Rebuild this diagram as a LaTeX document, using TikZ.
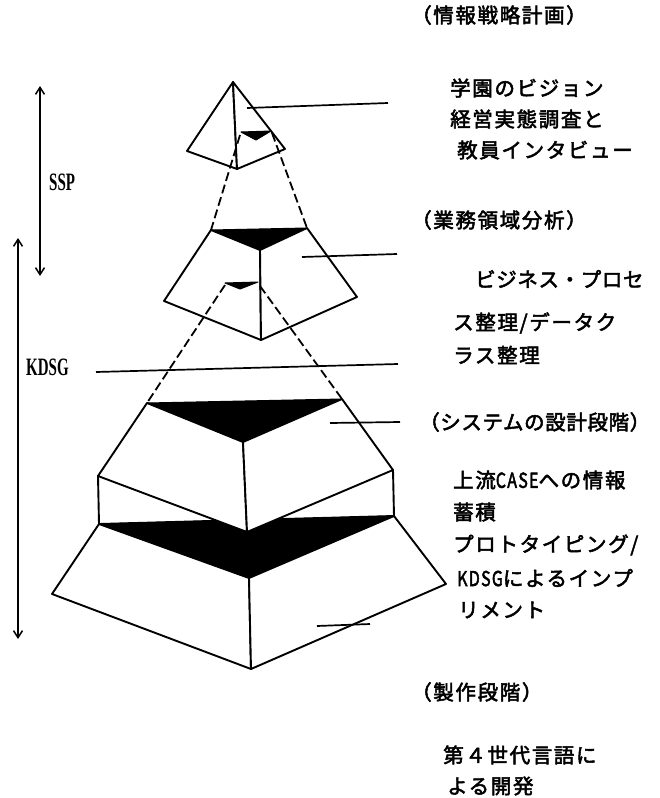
\documentclass[tikz,border=0pt]{standalone}
\usepackage{fontspec}
\usetikzlibrary{arrows.meta}
\newfontfamily\jp{Noto Sans CJK JP}[AutoFakeBold=2.5,LetterSpace=8]
\newfontfamily\jpt{Noto Sans CJK JP}[AutoFakeBold=2.5,LetterSpace=3]
\newfontfamily\lat{Liberation Serif}
\newcommand{\hw}[1]{\scalebox{0.78}[1]{#1}}
\begin{document}
\begin{tikzpicture}[x=1pt,y=-1pt,
  edge/.style={line width=1.9pt, line join=round},
  face/.style={edge, fill=white},
  shade/.style={fill=black, draw=black, line width=1pt, line join=round},
  guide/.style={line width=1.7pt},
  dashguide/.style={line width=1.8pt, dash pattern=on 9pt off 4pt},
  spanarrow/.style={line width=1.5pt, {Straight Barb[length=7pt,width=9pt]}-{Straight Barb[length=7pt,width=9pt]}},
  jptext/.style={anchor=west, inner sep=0pt, font=\jp\bfseries\fontsize{20.5}{20.5}\selectfont},
  jptight/.style={anchor=west, inner sep=0pt, font=\jpt\bfseries\fontsize{20.5}{20.5}\selectfont},
  lattext/.style={anchor=west, inner sep=0pt, font=\lat\bfseries\fontsize{25}{25}\selectfont}]
\useasboundingbox[fill=white] (0,0) rectangle (659,798);

% ---------- top pyramid ----------
\coordinate (A)  at (233,82);
\coordinate (TL) at (187,151);
\coordinate (TF) at (237,169);
\coordinate (TR) at (285,149);
\coordinate (ta) at (241,132);
\coordinate (tb) at (271,131);
\coordinate (tc) at (256,140);
% ---------- second tier ----------
\coordinate (SL) at (211,230);
\coordinate (SR) at (307,228);
\coordinate (SF) at (260,250);
\coordinate (SLC) at (164,301);
\coordinate (SFB) at (261,340);
\coordinate (SRC) at (357,297);
\coordinate (sa) at (225,283);
\coordinate (sb) at (258,282);
\coordinate (sc) at (240,289);
% ---------- third tier ----------
\coordinate (HL) at (147,403);
\coordinate (HR) at (342,399);
\coordinate (HF) at (243,442);
\coordinate (HLC) at (98,476);
\coordinate (HFB) at (247,532);
\coordinate (HRC) at (393,470);
\coordinate (HLB) at (99,524);
\coordinate (HRB) at (394,516);
% ---------- bottom tier ----------
\coordinate (BF) at (249,578);
\coordinate (BLC) at (52,594);
\coordinate (BFB) at (251,669);
\coordinate (BRC) at (446,584);

% top pyramid
\draw[face] (A) -- (TL) -- (TF) -- cycle;
\draw[face] (A) -- (TF) -- (TR) -- cycle;
\draw[shade] (ta) -- (tb) -- (tc) -- cycle;

% second tier
\draw[shade] (SL) -- (SR) -- (SF) -- cycle;
\draw[face] (SL) -- (SLC) -- (SFB) -- (SF) -- cycle;
\draw[face] (SF) -- (SFB) -- (SRC) -- (SR) -- cycle;
\draw[shade] (sa) -- (sb) -- (sc) -- cycle;

% dashed links
\draw[dashguide] (ta) ++(-1,3) -- (SL);
\draw[dashguide] (tb) ++(1,2) -- (SR);
\draw[dashguide] (sa) ++(0,2) -- (HL);
\draw[dashguide] (sb) ++(2,4) -- (HR);

% third tier with band
\draw[face] (HLC) -- (HLB) -- (HRB) -- (HRC) -- cycle;
\draw[shade] (HLB) -- (HRB) -- (BF) -- cycle;
\draw[shade] (HL) -- (HR) -- (HF) -- cycle;
\draw[face] (HL) -- (HLC) -- (HFB) -- (HF) -- cycle;
\draw[face] (HF) -- (HFB) -- (HRC) -- (HR) -- cycle;

% bottom tier
\draw[face] (HLB) -- (BLC) -- (BFB) -- (BF) -- cycle;
\draw[face] (BF) -- (BFB) -- (BRC) -- (HRB) -- cycle;

% leader lines
\coordinate (l1a) at (247,108); \coordinate (l1b) at (388,103);
\coordinate (l2a) at (302,257); \coordinate (l2b) at (397,254);
\coordinate (l3a) at (96,372);  \coordinate (l3b) at (398,364);
\coordinate (l4a) at (330,423); \coordinate (l4b) at (400,422);
\coordinate (l5a) at (317,626); \coordinate (l5b) at (370,624);
\draw[guide] (l1a) -- (l1b);
\draw[guide] (l2a) -- (l2b);
\draw[guide] (l3a) -- (l3b);
\draw[guide] (l4a) -- (l4b);
\draw[guide] (l5a) -- (l5b);

% range arrows
\coordinate (ssptop) at (40,86);
\coordinate (sspbot) at (40,276);
\coordinate (kdtop) at (18,238);
\coordinate (kdbot) at (18,639);
\draw[spanarrow] (ssptop) -- (sspbot);
\draw[spanarrow] (kdtop) -- (kdbot);

\node[lattext] (ssp) at (49,182) {\scalebox{0.6}[1]{SSP}};
\node[lattext] (kdsg) at (26,367) {\scalebox{0.6}[1]{KDSG}};

% right-hand texts
\node[jptext] (t1)  at (411,15)  {（情報戦略計画）};
\node[jptext] (t2)  at (450,88)  {学園のビジョン};
\node[jptext] (t3)  at (450,119) {経営実態調査と};
\node[jptext] (t4)  at (457,150) {教員インタビュー};
\node[jptext] (t5)  at (411,220) {（業務領域分析）};
\node[jptight] (t6) at (475,279) {ビジネス・プロセ};
\node[jptext] (t7)  at (453,323) {ス整理/データク};
\node[jptext] (t8)  at (453,355) {ラス整理};
\node[jptight] (t9) at (419,422) {（システムの設計段階）};
\node[jptext] (t10) at (453,480) {上流\hw{CASE}への情報};
\node[jptext] (t11) at (453,512) {蓄積};
\node[jptext] (t12) at (453,545) {プロトタイピング/};
\node[jptext] (t13) at (457,578) {\hw{KDSG}によるインプ};
\node[jptext] (t14) at (458,610) {リメント};
\node[jptext] (t15) at (411,692) {（製作段階）};
\node[jptext] (t16) at (443,755) {第４世代言語に};
\node[jptext] (t17) at (447,786) {よる開発};
\end{tikzpicture}
\end{document}
